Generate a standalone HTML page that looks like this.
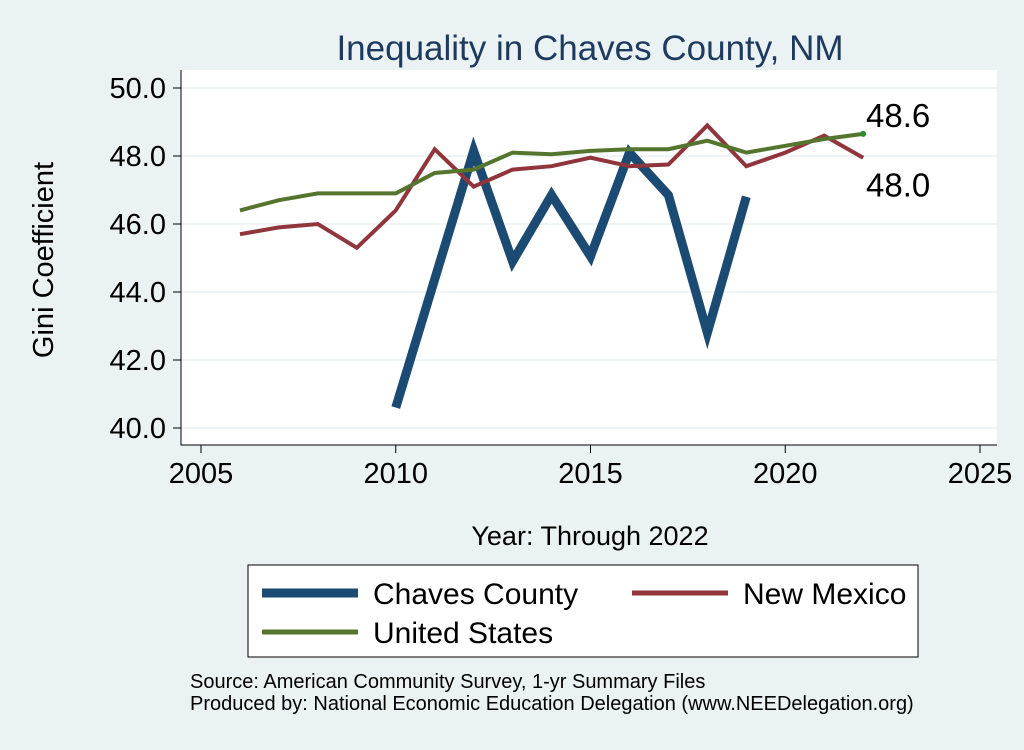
<!DOCTYPE html>
<html><head><meta charset="utf-8"><style>
body{margin:0;background:#eaf2f3;font-family:"Liberation Sans",sans-serif}
svg text{font-family:"Liberation Sans",sans-serif}
</style></head><body>
<svg width="1024" height="745" viewBox="0 0 1024 745">
<rect x="0" y="0" width="1024" height="745" fill="#eaf2f3"/>
<text x="590" y="60" font-size="35" fill="#1e3a5f" text-anchor="middle">Inequality in Chaves County, NM</text>
<rect x="181" y="70" width="816" height="375" fill="#fff"/>
<g id="grid"></g><g id="axes"></g><g id="series"></g>
<text x="53" y="260" font-size="29" transform="rotate(-90 53 260)" text-anchor="middle">Gini Coefficient</text>
<text x="590" y="545" font-size="27" text-anchor="middle">Year: Through 2022</text>
<g>
<rect x="248" y="565" width="670" height="92" fill="#fff" stroke="#000" stroke-width="1"/>
<line x1="262" y1="593" x2="358" y2="593" stroke="#1b4a72" stroke-width="9"/>
<text x="373" y="604" font-size="30">Chaves County</text>
<line x1="632" y1="593" x2="728" y2="593" stroke="#90353b" stroke-width="5"/>
<text x="743" y="604" font-size="30">New Mexico</text>
<line x1="262" y1="632" x2="358" y2="632" stroke="#55752f" stroke-width="5"/>
<text x="373" y="643" font-size="30">United States</text>
</g>
<text x="190" y="688" font-size="20">Source: American Community Survey, 1-yr Summary Files</text>
<text x="190" y="710" font-size="20">Produced by: National Economic Education Delegation (www.NEEDelegation.org)</text>
</svg>
<script>
const years=[2006,2007,2008,2009,2010,2011,2012,2013,2014,2015,2016,2017,2018,2019,2020,2021,2022];
const chavesYears=[2010,2012,2013,2014,2015,2016,2017,2018,2019];
const chaves=[40.6,48.15,44.9,46.85,45.05,48.1,46.85,42.8,46.8];
const newMexico=[45.7,45.9,46.0,45.3,46.4,48.2,47.1,47.6,47.7,47.95,47.7,47.75,48.9,47.7,48.1,48.6,47.95];
const unitedStates=[46.4,46.7,46.9,46.9,46.9,47.5,47.6,48.1,48.05,48.15,48.2,48.2,48.45,48.1,48.3,48.5,48.65];
const xTicks=[2005,2010,2015,2020,2025];
const yTicks=[40,42,44,46,48,50];
const NS="http://www.w3.org/2000/svg";
const X=v=>201+(v-2005)*(980-201)/20;
const Y=v=>428-(v-40)*34;
function mk(tag,at,parent){const e=document.createElementNS(NS,tag);for(const k in at)e.setAttribute(k,at[k]);document.getElementById(parent).appendChild(e);return e;}
yTicks.forEach(t=>{
 const g=mk('line',{x1:181,x2:997,y1:Y(t),y2:Y(t),stroke:'#eaf2f3','stroke-width':1.5},'grid');
 
 
 const tk=mk('line',{x1:173,x2:181,y1:Y(t),y2:Y(t),stroke:'#000'},'axes');
 
 
 const tx=mk('text',{x:166,y:Y(t)+10,'font-size':29,'text-anchor':'end'},'axes');tx.textContent=t.toFixed(1);
 
 
});
xTicks.forEach(t=>{
 const tk=mk('line',{x1:X(t),x2:X(t),y1:445,y2:453,stroke:'#000'},'axes');
 
 
 const tx=mk('text',{x:X(t),y:483,'font-size':29,'text-anchor':'middle'},'axes');tx.textContent=t;
 
 
});
const ax=mk('path',{d:'M181 70V445H997',fill:'none',stroke:'#000'},'axes');


function line(xs,ys,color,w,name){
 const p=mk('polyline',{points:xs.map((x,i)=>X(x)+','+Y(ys[i])).join(' '),fill:'none',stroke:color,'stroke-width':w,'stroke-linejoin':'miter'},'series');
 
 
}
line(chavesYears,chaves,'#1b4a72',9,'chaves-county-line');
line(years,newMexico,'#90353b',4,'new-mexico-line');
line(years,unitedStates,'#55752f',4,'united-states-line');
const d=mk('circle',{cx:X(2022),cy:Y(unitedStates[16]),r:3,fill:'#2e8b2e'},'series');


const l1=mk('text',{x:866,y:Y(unitedStates[16])-7,'font-size':33},'series');l1.textContent=unitedStates[16].toFixed(1);


const l2=mk('text',{x:866,y:Y(newMexico[16])+39,'font-size':33},'series');l2.textContent=newMexico[16].toFixed(1);


</script>
</body></html>
